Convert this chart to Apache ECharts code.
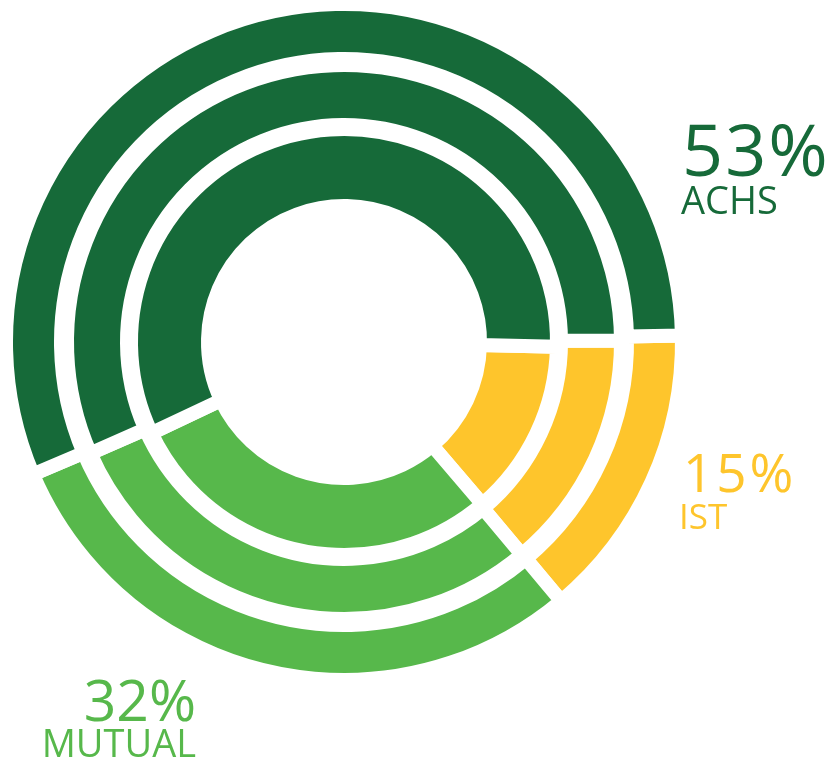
<!DOCTYPE html>
<html>
<head>
<meta charset="utf-8">
<script src="https://cdn.jsdelivr.net/npm/echarts@6/dist/echarts.min.js"></script>
<style>
html,body{margin:0;padding:0;background:#fff;}
#main{width:831px;height:763px;}
</style>
</head>
<body>
<div id="main"></div>
<script>
// Data
const categories = ['IST', 'MUTUAL', 'ACHS'];
const outerRing = [14.2, 29.7, 56.1];
const middleRing = [14.0, 29.5, 56.5];
const innerRing = [13.4, 29.2, 57.4];
const labelPercents = ['15%', '32%', '53%'];
const labelNames = ['IST', 'MUTUAL', 'ACHS'];

const colors = ['#fec52c', '#57b84b', '#166a39'];
const center = [344, 342];
const gap = 14;
const half = gap / 2;

function ring(values, r0, r1, startAngle) {
  return {
    type: 'pie',
    center: center,
    radius: [r0 - half, r1 + half],
    startAngle: startAngle,
    clockwise: true,
    silent: true,
    animation: false,
    label: { show: false },
    labelLine: { show: false },
    emphasis: { disabled: true },
    itemStyle: { borderColor: '#ffffff', borderWidth: gap },
    data: categories.map((c, i) => ({ name: c, value: values[i] }))
  };
}

const fontFamily = '"Open Sans", "Noto Sans", sans-serif';
function txt(text, x, y, size, color, align) {
  return {
    type: 'text',
    x: x, y: y,
    silent: true,
    style: {
      text: text,
      fill: color,
      font: 'normal ' + size + 'px ' + fontFamily,
      textAlign: align,
      textVerticalAlign: 'middle'
    }
  };
}
// spaced text: each character as a rich token with right padding
function spaced(text, x, y, size, color, align, spacing) {
  const chars = Array.from(text);
  const rich = {
    s: { fontSize: size, fontFamily: fontFamily, fill: color, padding: [0, spacing, 0, 0] },
    e: { fontSize: size, fontFamily: fontFamily, fill: color }
  };
  const str = chars.map((ch, i) => '{' + (i < chars.length - 1 ? 's' : 'e') + '|' + ch + '}').join('');
  return {
    type: 'text',
    x: x, y: y,
    silent: true,
    style: {
      text: str,
      rich: rich,
      fill: color,
      font: 'normal ' + size + 'px ' + fontFamily,
      textAlign: align,
      textVerticalAlign: 'middle'
    }
  };
}

const chart = echarts.init(document.getElementById('main'), null, { renderer: 'canvas' });
chart.setOption({
  backgroundColor: '#ffffff',
  animation: false,
  color: colors,
  series: [
    ring(outerRing, 290, 331, 1.1),
    ring(middleRing, 224, 270, 0.3),
    ring(innerRing, 143, 206, -1.3)
  ],
  graphic: [
    spaced(labelPercents[2], 682, 155, 72, colors[2], 'left', 2),
    txt(labelNames[2], 681, 203, 38, colors[2], 'left'),
    spaced(labelPercents[0], 683, 477, 53, colors[0], 'left', 3),
    txt(labelNames[0], 679, 519, 35, colors[0], 'left'),
    txt(labelPercents[1], 196, 705, 57, colors[1], 'right'),
    txt(labelNames[1], 196, 746, 38, colors[1], 'right')
  ]
});
</script>
</body>
</html>
